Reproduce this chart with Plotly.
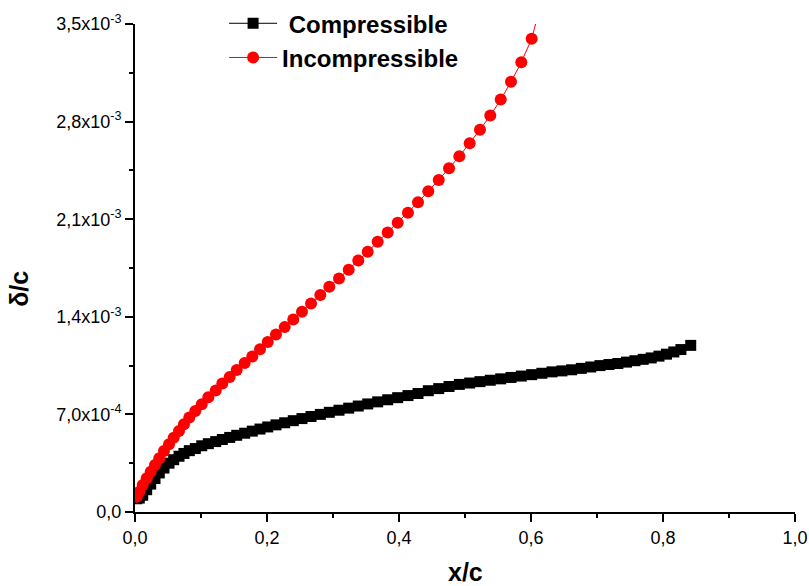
import plotly.graph_objects as go

# Chordwise stations (x/c)
x_c = [0.0026, 0.0065, 0.0117, 0.0177, 0.0238, 0.0303, 0.0368, 0.0439, 0.0515, 0.0586,
       0.0667, 0.0742, 0.0823, 0.0914, 0.1011, 0.1111, 0.1223, 0.1323, 0.1435, 0.1541,
       0.1662, 0.1777, 0.1894, 0.2011, 0.2136, 0.2268, 0.2398, 0.2530, 0.2667, 0.2808,
       0.2944, 0.3091, 0.3238, 0.3383, 0.3526, 0.3677, 0.3829, 0.3980, 0.4136, 0.4288,
       0.4444, 0.4602, 0.4758, 0.4914, 0.5071, 0.5227, 0.5383, 0.5541, 0.5697, 0.5853,
       0.6010, 0.6165, 0.6318, 0.6468, 0.6616, 0.6762, 0.6905, 0.7045, 0.7182, 0.7316,
       0.7447, 0.7575, 0.7700, 0.7821, 0.7939, 0.8053, 0.8164, 0.8271, 0.8420]

# Boundary-layer thickness delta/c (units of 1e-3)
delta_compressible = [0.095, 0.100, 0.120, 0.160, 0.200, 0.240, 0.280, 0.315, 0.350, 0.375,
                      0.400, 0.420, 0.440, 0.455, 0.475, 0.490, 0.505, 0.520, 0.535, 0.550,
                      0.565, 0.580, 0.595, 0.610, 0.625, 0.640, 0.655, 0.670, 0.685, 0.700,
                      0.715, 0.730, 0.745, 0.760, 0.775, 0.790, 0.805, 0.820, 0.835, 0.850,
                      0.870, 0.885, 0.900, 0.915, 0.925, 0.935, 0.945, 0.955, 0.965, 0.975,
                      0.985, 0.995, 1.005, 1.012, 1.020, 1.030, 1.040, 1.050, 1.058, 1.065,
                      1.075, 1.085, 1.095, 1.105, 1.118, 1.132, 1.148, 1.165, 1.195]

delta_incompressible = [0.110, 0.146, 0.194, 0.242, 0.289, 0.337, 0.386, 0.438, 0.486, 0.533,
                        0.581, 0.630, 0.677, 0.725, 0.773, 0.823, 0.871, 0.921, 0.969, 1.019,
                        1.068, 1.115, 1.168, 1.220, 1.273, 1.326, 1.381, 1.436, 1.496, 1.556,
                        1.615, 1.675, 1.737, 1.803, 1.867, 1.938, 2.005, 2.075, 2.147, 2.221,
                        2.300, 2.381, 2.465, 2.551, 2.644, 2.742, 2.843, 2.958, 3.085, 3.226,
                        3.394, 3.670]

x_ticks = [0.0, 0.2, 0.4, 0.6, 0.8, 1.0]
x_tick_text = ["0,0", "0,2", "0,4", "0,6", "0,8", "1,0"]
y_ticks = [0.0, 7.0e-4, 1.4e-3, 2.1e-3, 2.8e-3, 3.5e-3]
y_tick_text = ["0,0", "7,0x10<sup>-4</sup>", "1,4x10<sup>-3</sup>", "2,1x10<sup>-3</sup>",
               "2,8x10<sup>-3</sup>", "3,5x10<sup>-3</sup>"]

FONT = "Liberation Sans, Arial, sans-serif"

fig = go.Figure()
fig.add_trace(go.Scatter(
    x=x_c, y=[v * 1e-3 for v in delta_compressible],
    mode="lines+markers", name="<b>&nbsp;Compressible</b>",
    line=dict(color="black", width=1),
    marker=dict(symbol="square", size=11, color="black", line=dict(width=0)),
))
fig.add_trace(go.Scatter(
    x=x_c[:len(delta_incompressible)], y=[v * 1e-3 for v in delta_incompressible],
    mode="lines+markers", name="<b>Incompressible</b>",
    line=dict(color="red", width=1),
    marker=dict(symbol="circle", size=12, color="red", line=dict(width=0)),
))

axis_common = dict(
    showline=True, linecolor="black", linewidth=2,
    ticks="outside", ticklen=8, tickwidth=2, tickcolor="black",
    showgrid=False, zeroline=False, mirror=False, automargin=False,
    tickfont=dict(family=FONT, size=18, color="black"),
)

fig.update_xaxes(
    range=[0, 1.0], tickvals=x_ticks, ticktext=x_tick_text,
    minor=dict(ticks="outside", ticklen=4, tickwidth=2, tickcolor="black", dtick=0.1, showgrid=False),
    **axis_common,
)
fig.update_yaxes(
    range=[0, 3.5e-3], tickvals=y_ticks, ticktext=y_tick_text,
    minor=dict(ticks="outside", ticklen=4, tickwidth=2, tickcolor="black", dtick=3.5e-4, showgrid=False),
    **axis_common,
)

fig.add_annotation(text="<b>x/c</b>", xref="paper", yref="paper", x=0.5, y=-0.122,
                   xanchor="center", yanchor="middle", showarrow=False,
                   font=dict(family=FONT, size=25, color="black"))
fig.add_annotation(text="<b>δ/c</b>", xref="paper", yref="paper", x=-0.176, y=0.457,
                   xanchor="center", yanchor="middle", showarrow=False, textangle=-90,
                   font=dict(family=FONT, size=25, color="black"))

fig.update_layout(
    width=809, height=586,
    margin=dict(l=135, r=14, t=24, b=74, autoexpand=False),
    paper_bgcolor="white", plot_bgcolor="white",
    showlegend=True,
    legend=dict(xref="container", yref="container",
                x=0.277, y=0.998, xanchor="left", yanchor="top",
                bgcolor="rgba(0,0,0,0)", borderwidth=0,
                font=dict(family=FONT, size=24, color="black"),
                itemwidth=48, tracegroupgap=0),
    font=dict(family=FONT),
)

fig.write_html("out.html")
